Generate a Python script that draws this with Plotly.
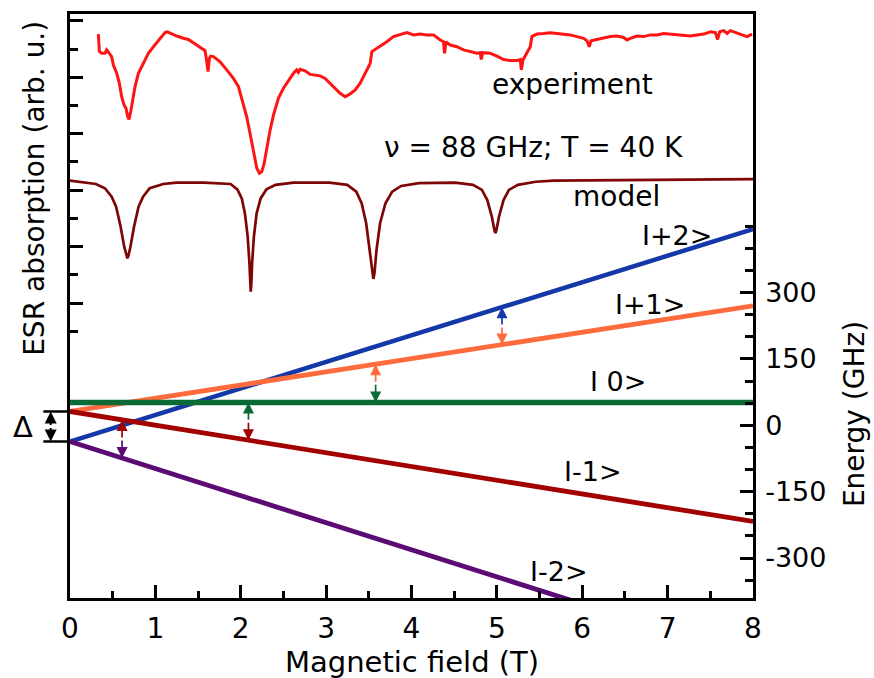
import numpy as np
import plotly.graph_objects as go

# ---------------- ESR spectra (field in T, absorption in arb. u.) ----------------
exp_field = [0.332, 0.344, 0.371, 0.410, 0.430, 0.461, 0.488, 0.508, 0.547, 0.578,
             0.605, 0.633, 0.656, 0.676, 0.691, 0.711, 0.734, 0.762, 0.801, 0.840,
             0.879, 0.918, 0.977, 1.055, 1.113, 1.141, 1.191, 1.250, 1.328, 1.387,
             1.445, 1.523, 1.582, 1.602, 1.617, 1.633, 1.648, 1.680, 1.758, 1.836,
             1.914, 1.973, 2.031, 2.070, 2.109, 2.148, 2.188, 2.219, 2.246, 2.274,
             2.305, 2.344, 2.383, 2.442, 2.500, 2.559, 2.617, 2.656, 2.676, 2.696,
             2.754, 2.813, 2.871, 2.930, 2.988, 3.047, 3.106, 3.164, 3.223, 3.281,
             3.340, 3.399, 3.457, 3.496, 3.516, 3.536, 3.575, 3.633, 3.711, 3.789,
             3.868, 3.946, 4.024, 4.102, 4.180, 4.258, 4.336, 4.375, 4.387, 4.403,
             4.454, 4.532, 4.610, 4.688, 4.766, 4.805, 4.817, 4.833, 4.923, 5.001,
             5.079, 5.157, 5.235, 5.274, 5.286, 5.306, 5.352, 5.391, 5.410, 5.469,
             5.547, 5.625, 5.704, 5.782, 5.860, 5.938, 6.016, 6.055, 6.082, 6.102,
             6.172, 6.250, 6.329, 6.407, 6.485, 6.524, 6.563, 6.641, 6.719, 6.797,
             6.876, 6.954, 7.032, 7.110, 7.188, 7.266, 7.344, 7.423, 7.501, 7.559,
             7.586, 7.610, 7.657, 7.696, 7.735, 7.813, 7.872, 7.930, 7.989]
exp_signal = [10.53, 9.91, 9.85, 9.85, 9.97, 9.85, 9.73, 9.43, 9.14, 8.79,
              8.31, 8.02, 7.90, 7.60, 7.51, 7.78, 8.20, 8.67, 9.14, 9.38,
              9.61, 9.85, 10.08, 10.38, 10.58, 10.61, 10.53, 10.46, 10.38, 10.34,
              10.22, 10.06, 9.94, 9.55, 9.20, 9.67, 9.75, 9.73, 9.55, 9.26,
              8.96, 8.67, 8.08, 7.60, 7.01, 6.37, 5.78, 5.60, 5.66, 5.95,
              6.54, 7.13, 7.66, 8.26, 8.61, 8.90, 9.14, 9.26, 9.17, 9.28,
              9.23, 9.10, 9.08, 9.05, 8.96, 8.79, 8.61, 8.43, 8.31, 8.41,
              8.55, 8.79, 9.14, 9.38, 9.49, 9.91, 9.99, 10.08, 10.26, 10.44,
              10.50, 10.58, 10.50, 10.53, 10.50, 10.50, 10.32, 10.26, 9.85, 10.26,
              10.14, 10.08, 9.97, 9.91, 9.85, 9.87, 9.63, 9.87, 9.85, 9.75,
              9.63, 9.59, 9.59, 9.63, 9.26, 9.61, 9.85, 10.08, 10.44, 10.53,
              10.55, 10.58, 10.55, 10.53, 10.50, 10.44, 10.38, 10.29, 10.08, 10.29,
              10.34, 10.41, 10.44, 10.46, 10.41, 10.32, 10.38, 10.46, 10.44, 10.50,
              10.50, 10.55, 10.53, 10.50, 10.50, 10.46, 10.50, 10.53, 10.61, 10.58,
              10.34, 10.61, 10.65, 10.55, 10.65, 10.58, 10.50, 10.44, 10.53]

model_field = [0.000, 0.093, 0.303, 0.409, 0.488, 0.540, 0.593, 0.635, 0.660, 0.672,
               0.684, 0.708, 0.750, 0.803, 0.856, 0.934, 1.092, 1.250, 1.565, 1.881,
               1.960, 2.012, 2.049, 2.081, 2.102, 2.110, 2.117, 2.124, 2.133, 2.154,
               2.186, 2.233, 2.301, 2.407, 2.617, 3.038, 3.248, 3.353, 3.416, 3.469,
               3.511, 3.540, 3.553, 3.566, 3.590, 3.632, 3.695, 3.774, 3.879, 4.089,
               4.510, 4.720, 4.825, 4.888, 4.941, 4.972, 4.983, 4.994, 5.025, 5.078,
               5.141, 5.246, 5.456, 5.667, 8.000]
model_signal = [5.34, 5.30, 5.22, 5.07, 4.77, 4.42, 3.71, 3.00, 2.68, 2.59,
                2.68, 3.00, 3.71, 4.42, 4.77, 5.07, 5.22, 5.27, 5.27, 5.22,
                5.03, 4.71, 4.18, 3.36, 2.41, 1.70, 1.41, 1.70, 2.41, 3.36,
                4.18, 4.71, 5.03, 5.19, 5.27, 5.27, 5.19, 4.95, 4.54, 3.83,
                2.88, 2.05, 1.86, 2.05, 2.88, 3.83, 4.54, 4.95, 5.15, 5.25,
                5.27, 5.19, 5.01, 4.65, 4.06, 3.58, 3.48, 3.58, 4.06, 4.65,
                5.01, 5.19, 5.30, 5.34, 5.39]

# ---------------- Energy levels (field in T, energy in GHz) ----------------
level_field = [0.0, 8.0]
e_plus2 = [-36.6, 443.2]
e_plus1 = [31.2, 270.0]
e_zero = [51.5, 51.5]
e_minus1 = [31.2, -217.3]
e_minus2 = [-36.6, -526.0]

energy_ticks = [-300, -150, 0, 150, 300]
energy_ticktext = ["-300", "-150", "0", "150", "300"]

c_plus2 = "#1538a8"
c_plus1 = "#ff6b3d"
c_zero = "#0b6b35"
c_minus1 = "#a30000"
c_minus2 = "#5c0b74"

levels = [
    (e_plus2, c_plus2, 4.5),
    (e_plus1, c_plus1, 4.8),
    (e_zero, c_zero, 5.6),
    (e_minus1, c_minus1, 4.8),
    (e_minus2, c_minus2, 4.8),
]

# resonance fields of the 88 GHz transitions: (field, upper level, lower level)
trans_field = [0.61, 2.09, 3.58, 5.06]
trans_pairs = [(e_minus1, e_minus2, c_minus1, c_minus2),
               (e_zero, e_minus1, c_zero, c_minus1),
               (e_plus1, e_zero, c_plus1, c_zero),
               (e_plus2, e_plus1, c_plus2, c_plus1)]

FONT = "DejaVu Sans"

fig = go.Figure()

# energy levels on the right axis
for energy, color, width in levels:
    fig.add_trace(go.Scatter(x=level_field, y=energy, mode="lines", yaxis="y2",
                             line=dict(color=color, width=width), hoverinfo="skip"))

# spectra on the left axis
fig.add_trace(go.Scatter(x=model_field, y=model_signal, mode="lines",
                         line=dict(color="#7d0505", width=2.7), hoverinfo="skip"))
fig.add_trace(go.Scatter(x=exp_field, y=exp_signal, mode="lines",
                         line=dict(color="#ff1414", width=3), hoverinfo="skip"))

annotations = []
shapes = []

# two-tone double arrows for the transitions
for b, (up, lo, cu, cl) in zip(trans_field, trans_pairs):
    eu = float(np.interp(b, level_field, up))
    el = float(np.interp(b, level_field, lo))
    em = 0.5 * (eu + el)
    for tip, col in ((eu, cu), (el, cl)):
        annotations.append(dict(x=b, y=tip, ax=b, ay=em, xref="x", yref="y2",
                                axref="x", ayref="y2", text="", showarrow=True,
                                arrowhead=2, arrowsize=1.3, arrowwidth=1.7,
                                arrowcolor=col))

# zero-field splitting bracket
d_top = e_plus1[0]
d_bot = e_plus2[0]
for e in (d_top, d_bot):
    shapes.append(dict(type="line", xref="paper", yref="y2", x0=-0.039, x1=0.0,
                       y0=e, y1=e, line=dict(color="black", width=2.5)))
d_mid = 0.5 * (d_top + d_bot)
for e in (d_top, d_bot):
    annotations.append(dict(x=-0.0283, y=e, ax=0, ay=d_mid, xref="paper", yref="y2",
                            axref="pixel", ayref="y2", text="", showarrow=True,
                            arrowhead=2, arrowsize=1.2, arrowwidth=2, arrowcolor="black"))
annotations.append(dict(x=-0.069, y=d_mid - 1, xref="paper", yref="y2", text="Δ",
                        showarrow=False, font=dict(size=29, family=FONT),
                        xanchor="center", yanchor="middle"))

# level labels
level_text = [("I+2>", 7.11, 430), ("I+1>", 6.79, 274), ("I 0>", 6.42, 100),
              ("I-1>", 6.12, -104), ("I-2>", 5.73, -330)]
for t, bx, ey in level_text:
    annotations.append(dict(x=bx, y=ey, xref="x", yref="y2", text=t, showarrow=False,
                            font=dict(size=27, family=FONT), xanchor="center",
                            yanchor="middle"))

# spectrum labels
for t, bx, uy in [("experiment", 5.89, 8.73), ("ν = 88 GHz; T = 40 K", 5.43, 6.53),
                  ("model", 6.40, 4.77)]:
    annotations.append(dict(x=bx, y=uy, xref="x", yref="y", text=t, showarrow=False,
                            font=dict(size=28, family=FONT), xanchor="center",
                            yanchor="middle"))

# axis titles
annotations.append(dict(x=0.5, y=-0.109, xref="paper", yref="paper",
                        text="Magnetic field (T)", showarrow=False,
                        font=dict(size=29, family=FONT), xanchor="center", yanchor="middle"))
annotations.append(dict(x=-0.053, y=0.702, xref="paper", yref="paper",
                        text="ESR absorption (arb. u.)", showarrow=False, textangle=-90,
                        font=dict(size=28, family=FONT), xanchor="center", yanchor="middle"))
annotations.append(dict(x=1.148, y=0.315, xref="paper", yref="paper",
                        text="Energy (GHz)", showarrow=False, textangle=-90,
                        font=dict(size=28, family=FONT), xanchor="center", yanchor="middle"))

axis_line = dict(showline=True, linewidth=2.5, linecolor="black", showgrid=False,
                 zeroline=False, tickcolor="black", tickwidth=2.5, ticks="inside")

fig.update_layout(
    width=874, height=678,
    margin=dict(l=70, r=121, t=14, b=80),
    plot_bgcolor="white", paper_bgcolor="white",
    showlegend=False,
    font=dict(family=FONT, size=28, color="black"),
    xaxis=dict(range=[0, 8], tickvals=list(range(9)), ticklen=13, mirror=True,
               tickfont=dict(size=28), ticklabelstandoff=4,
               minor=dict(tickvals=[i + 0.5 for i in range(8)], ticks="inside",
                          ticklen=7, tickwidth=2.5, tickcolor="black", showgrid=False),
               **axis_line),
    yaxis=dict(range=[-9.44, 11.24], tickvals=[1, 3, 5, 7, 9, 11], ticklen=13,
               showticklabels=False,
               minor=dict(tickvals=[0, 2, 4, 6, 8, 10], ticks="inside", ticklen=8,
                          tickwidth=2.5, tickcolor="black", showgrid=False),
               **axis_line),
    yaxis2=dict(range=[-390.3, 929.5], overlaying="y", side="right", anchor="x",
                tickvals=energy_ticks, ticktext=energy_ticktext, ticklen=13,
                tickfont=dict(size=27), ticklabelstandoff=4,
                minor=dict(tickvals=[-350, -250, -200, -100, -50, 50, 100, 200, 250,
                                     350, 400, 450],
                           ticks="inside", ticklen=8, tickwidth=2.5, tickcolor="black",
                           showgrid=False),
                **axis_line),
    annotations=annotations,
    shapes=shapes,
)

fig.write_html("out.html")
